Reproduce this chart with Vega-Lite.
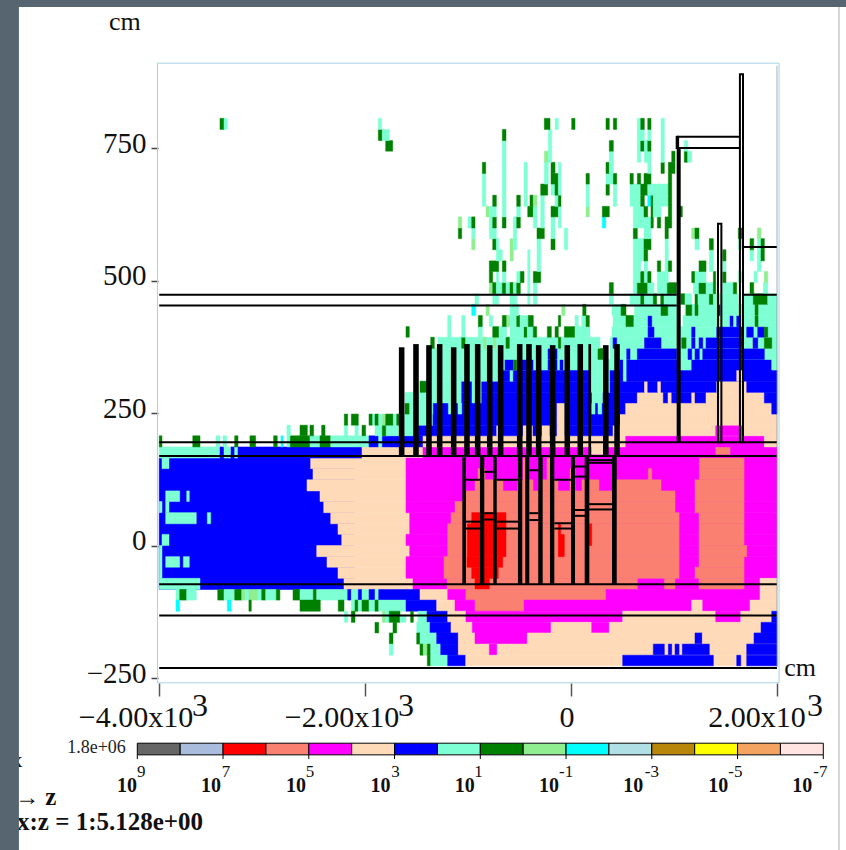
{"$schema":"https://vega.github.io/schema/vega-lite/v6.json","width":846,"height":850,"padding":0,"autosize":{"type":"none"},"background":"white","config":{"view":{"stroke":null}},
"datasets":{
"cells":[
{"z":-3998,"z2":-2100,"y":-83,"y2":165,"d":3},
{"z":-2528,"z2":2000,"y":145,"y2":165,"d":4},{"z":-2505,"z2":2000,"y":124,"y2":145,"d":4},{"z":-2563,"z2":2000,"y":103,"y2":124,"d":4},{"z":-2437,"z2":2000,"y":83,"y2":103,"d":4},{"z":-2401,"z2":2000,"y":62,"y2":83,"d":4},{"z":-2333,"z2":2000,"y":41,"y2":62,"d":4},{"z":-2262,"z2":2000,"y":21,"y2":41,"d":4},{"z":-2226,"z2":2000,"y":0,"y2":21,"d":4},{"z":-2469,"z2":2000,"y":-21,"y2":0,"d":4},{"z":-2369,"z2":2000,"y":-41,"y2":-21,"d":4},{"z":-2262,"z2":2000,"y":-62,"y2":-41,"d":4},{"z":-2204,"z2":2000,"y":-83,"y2":-62,"d":4},
{"z":-3998,"z2":-3602,"y":-83,"y2":-62,"d":2},{"z":-3971,"z2":-3903,"y":145,"y2":165,"d":2},{"z":-3935,"z2":-3799,"y":83,"y2":103,"d":2},{"z":-3731,"z2":-3706,"y":83,"y2":103,"d":2},{"z":-3998,"z2":-3971,"y":62,"y2":83,"d":2},{"z":-3935,"z2":-3903,"y":62,"y2":83,"d":2},{"z":-3935,"z2":-3638,"y":41,"y2":62,"d":2},{"z":-3531,"z2":-3498,"y":41,"y2":62,"d":2},{"z":-3971,"z2":-3903,"y":0,"y2":21,"d":2},{"z":-3935,"z2":-3799,"y":-41,"y2":-21,"d":2},{"z":-3764,"z2":-3706,"y":-41,"y2":-21,"d":2},{"z":-3998,"z2":-3971,"y":-62,"y2":0,"d":2},
{"z":-3998,"z2":-3408,"y":165,"y2":186,"d":2},{"z":-3408,"z2":-3369,"y":165,"y2":186,"d":3},{"z":-3369,"z2":-3301,"y":165,"y2":186,"d":2},{"z":-3301,"z2":-3265,"y":165,"y2":186,"d":3},{"z":-3265,"z2":-3233,"y":165,"y2":186,"d":2},{"z":-3233,"z2":-2029,"y":165,"y2":186,"d":3},{"z":-2029,"z2":-1437,"y":165,"y2":186,"d":4},{"z":-1437,"z2":2000,"y":165,"y2":186,"d":5},{"z":201,"z2":316,"y":172,"y2":186,"d":4},{"z":1405,"z2":1544,"y":172,"y2":186,"d":6},
{"z":-1602,"z2":2000,"y":83,"y2":165,"d":5},{"z":-1602,"z2":2000,"y":62,"y2":83,"d":5},{"z":-1566,"z2":2000,"y":21,"y2":62,"d":5},{"z":-1602,"z2":2000,"y":0,"y2":21,"d":5},{"z":-1566,"z2":2000,"y":-21,"y2":0,"d":5},{"z":-1602,"z2":2000,"y":-62,"y2":-21,"d":5},{"z":-1534,"z2":1835,"y":-83,"y2":-62,"d":5},{"z":1835,"z2":2000,"y":-83,"y2":-62,"d":4},
{"z":-466,"z2":-427,"y":145,"y2":165,"d":6},{"z":-233,"z2":-204,"y":145,"y2":165,"d":6},{"z":1246,"z2":1680,"y":145,"y2":165,"d":6},
{"z":-903,"z2":-835,"y":124,"y2":145,"d":6},{"z":-466,"z2":-427,"y":124,"y2":145,"d":6},{"z":-233,"z2":-204,"y":124,"y2":145,"d":6},{"z":-10,"z2":39,"y":124,"y2":145,"d":6},{"z":751,"z2":784,"y":124,"y2":145,"d":6},{"z":1246,"z2":1680,"y":124,"y2":145,"d":6},
{"z":-932,"z2":-660,"y":103,"y2":124,"d":6},{"z":-515,"z2":-369,"y":103,"y2":124,"d":6},{"z":-301,"z2":-126,"y":103,"y2":124,"d":6},{"z":-10,"z2":39,"y":103,"y2":124,"d":6},{"z":107,"z2":272,"y":103,"y2":124,"d":6},{"z":437,"z2":874,"y":103,"y2":124,"d":6},{"z":1204,"z2":1680,"y":103,"y2":124,"d":6},
{"z":-1020,"z2":1010,"y":83,"y2":103,"d":6},{"z":1204,"z2":1680,"y":83,"y2":103,"d":6},
{"z":-1126,"z2":1010,"y":62,"y2":83,"d":6},{"z":1204,"z2":1680,"y":62,"y2":83,"d":6},
{"z":-1165,"z2":1049,"y":41,"y2":62,"d":6},{"z":1243,"z2":1680,"y":41,"y2":62,"d":6},
{"z":-1197,"z2":1049,"y":-21,"y2":41,"d":6},{"z":1243,"z2":1680,"y":0,"y2":41,"d":6},{"z":1243,"z2":1706,"y":-21,"y2":0,"d":6},
{"z":-1233,"z2":1049,"y":-62,"y2":-21,"d":6},{"z":1243,"z2":1680,"y":-41,"y2":-21,"d":6},{"z":1204,"z2":1680,"y":-62,"y2":-41,"d":6},
{"z":-1204,"z2":644,"y":-83,"y2":-62,"d":6},{"z":906,"z2":1010,"y":-83,"y2":-62,"d":6},{"z":1243,"z2":1680,"y":-83,"y2":-62,"d":6},
{"z":-964,"z2":-884,"y":41,"y2":62,"d":7},{"z":-845,"z2":-631,"y":41,"y2":62,"d":7},{"z":-1007,"z2":-631,"y":-21,"y2":41,"d":7},{"z":-1010,"z2":-663,"y":-41,"y2":-21,"d":7},{"z":-964,"z2":-884,"y":-62,"y2":-41,"d":7},{"z":-845,"z2":-706,"y":-62,"y2":-41,"d":7},{"z":-932,"z2":-793,"y":-83,"y2":-62,"d":7},{"z":-123,"z2":-65,"y":-21,"y2":21,"d":7},{"z":-123,"z2":-100,"y":21,"y2":41,"d":7},{"z":178,"z2":201,"y":0,"y2":41,"d":7},
{"z":-3835,"z2":-3799,"y":-103,"y2":-83,"d":2},{"z":-3799,"z2":-3731,"y":-103,"y2":-83,"d":1},{"z":-3731,"z2":-3638,"y":-103,"y2":-83,"d":2},{"z":-3430,"z2":-3369,"y":-103,"y2":-83,"d":1},{"z":-3369,"z2":-3265,"y":-103,"y2":-83,"d":2},{"z":-3265,"z2":-3197,"y":-103,"y2":-83,"d":1},{"z":-3197,"z2":-3162,"y":-103,"y2":-83,"d":0},{"z":-3162,"z2":-3127,"y":-103,"y2":-83,"d":2},{"z":-3127,"z2":-3039,"y":-103,"y2":-83,"d":0},{"z":-3039,"z2":-3003,"y":-103,"y2":-83,"d":2},{"z":-3003,"z2":-2964,"y":-103,"y2":-83,"d":1},{"z":-2964,"z2":-2861,"y":-103,"y2":-83,"d":2},{"z":-2861,"z2":-2826,"y":-103,"y2":-83,"d":1},{"z":-2699,"z2":-2631,"y":-103,"y2":-83,"d":1},{"z":-2631,"z2":-2502,"y":-103,"y2":-83,"d":2},{"z":-2502,"z2":-2469,"y":-103,"y2":-83,"d":1},{"z":-2469,"z2":-2168,"y":-103,"y2":-83,"d":2},{"z":-2168,"z2":-2133,"y":-103,"y2":-83,"d":3},{"z":-2133,"z2":-2065,"y":-103,"y2":-83,"d":2},{"z":-2065,"z2":-2029,"y":-103,"y2":-83,"d":3},{"z":-2029,"z2":-1961,"y":-103,"y2":-83,"d":2},{"z":-1961,"z2":-1903,"y":-103,"y2":-83,"d":3},{"z":-1903,"z2":-1867,"y":-103,"y2":-83,"d":2},{"z":-1867,"z2":-1466,"y":-103,"y2":-83,"d":3},{"z":-1466,"z2":-1197,"y":-103,"y2":-83,"d":4},{"z":-1197,"z2":-1020,"y":-103,"y2":-83,"d":5},{"z":-1020,"z2":340,"y":-103,"y2":-83,"d":6},{"z":340,"z2":1835,"y":-103,"y2":-83,"d":5},{"z":1835,"z2":2000,"y":-103,"y2":-83,"d":4},
{"z":-3835,"z2":-3799,"y":-124,"y2":-103,"d":-1},{"z":-3337,"z2":-3301,"y":-124,"y2":-103,"d":-1},{"z":-3127,"z2":-3104,"y":-124,"y2":-103,"d":1},{"z":-2631,"z2":-2434,"y":-124,"y2":-103,"d":1},{"z":-2260,"z2":-2204,"y":-124,"y2":-103,"d":1},{"z":-2133,"z2":-2097,"y":-124,"y2":-103,"d":2},{"z":-2097,"z2":-2065,"y":-124,"y2":-103,"d":1},{"z":-2065,"z2":-2029,"y":-124,"y2":-103,"d":2},{"z":-2029,"z2":-1961,"y":-124,"y2":-103,"d":1},{"z":-1961,"z2":-1903,"y":-124,"y2":-103,"d":2},{"z":-1903,"z2":-1867,"y":-124,"y2":-103,"d":1},{"z":-1867,"z2":-1602,"y":-124,"y2":-103,"d":2},{"z":-1602,"z2":-1304,"y":-124,"y2":-103,"d":3},{"z":-1304,"z2":-1126,"y":-124,"y2":-103,"d":4},{"z":-1126,"z2":-932,"y":-124,"y2":-103,"d":5},{"z":-932,"z2":-456,"y":-124,"y2":-103,"d":6},{"z":-456,"z2":1172,"y":-124,"y2":-103,"d":5},{"z":1172,"z2":1279,"y":-124,"y2":-103,"d":4},{"z":1279,"z2":1738,"y":-124,"y2":-103,"d":5},{"z":1738,"z2":2000,"y":-124,"y2":-103,"d":4},
{"z":-2201,"z2":-2168,"y":-145,"y2":-124,"d":2},{"z":-2133,"z2":-2097,"y":-145,"y2":-124,"d":1},{"z":-1832,"z2":-1799,"y":-145,"y2":-124,"d":0},{"z":-1799,"z2":-1764,"y":-145,"y2":-124,"d":2},{"z":-1764,"z2":-1660,"y":-145,"y2":-124,"d":1},{"z":-1660,"z2":-1602,"y":-145,"y2":-131,"d":2},{"z":-1557,"z2":-1531,"y":-145,"y2":-124,"d":1},{"z":-1486,"z2":-1398,"y":-145,"y2":-124,"d":2},{"z":-1398,"z2":-1197,"y":-145,"y2":-124,"d":3},{"z":-1197,"z2":-1020,"y":-145,"y2":-124,"d":4},{"z":-1020,"z2":502,"y":-145,"y2":-124,"d":5},{"z":502,"z2":1405,"y":-145,"y2":-124,"d":4},{"z":1405,"z2":1648,"y":-145,"y2":-124,"d":5},{"z":1648,"z2":1949,"y":-145,"y2":-124,"d":4},{"z":1949,"z2":2000,"y":-145,"y2":-124,"d":3},
{"z":-1903,"z2":-1867,"y":-165,"y2":-145,"d":1},{"z":-1728,"z2":-1692,"y":-165,"y2":-145,"d":1},{"z":-1498,"z2":-1369,"y":-165,"y2":-145,"d":2},{"z":-1369,"z2":-1165,"y":-165,"y2":-145,"d":3},{"z":-1165,"z2":-958,"y":-165,"y2":-145,"d":4},{"z":-958,"z2":-194,"y":-165,"y2":-145,"d":5},{"z":-194,"z2":201,"y":-165,"y2":-145,"d":4},{"z":201,"z2":372,"y":-165,"y2":-145,"d":5},{"z":372,"z2":1845,"y":-165,"y2":-145,"d":4},{"z":1845,"z2":2000,"y":-165,"y2":-145,"d":3},
{"z":-1764,"z2":-1728,"y":-186,"y2":-165,"d":1},{"z":-1498,"z2":-1466,"y":-186,"y2":-165,"d":1},{"z":-1466,"z2":-1304,"y":-186,"y2":-165,"d":2},{"z":-1304,"z2":-1094,"y":-186,"y2":-165,"d":3},{"z":-1094,"z2":-932,"y":-186,"y2":-165,"d":4},{"z":-932,"z2":-424,"y":-186,"y2":-165,"d":5},{"z":-424,"z2":1204,"y":-186,"y2":-165,"d":4},{"z":1204,"z2":1275,"y":-186,"y2":-165,"d":3},{"z":1275,"z2":1777,"y":-186,"y2":-165,"d":4},{"z":1777,"z2":2000,"y":-186,"y2":-165,"d":3},
{"z":-1764,"z2":-1728,"y":-207,"y2":-186,"d":2},{"z":-1466,"z2":-1434,"y":-207,"y2":-186,"d":1},{"z":-1434,"z2":-1395,"y":-207,"y2":-186,"d":0},{"z":-1395,"z2":-1362,"y":-207,"y2":-186,"d":1},{"z":-1362,"z2":-1265,"y":-207,"y2":-186,"d":2},{"z":-1265,"z2":-1094,"y":-207,"y2":-186,"d":3},{"z":-1094,"z2":2000,"y":-207,"y2":-186,"d":4},{"z":-793,"z2":-721,"y":-207,"y2":-186,"d":5},{"z":799,"z2":906,"y":-207,"y2":-186,"d":3},{"z":945,"z2":978,"y":-207,"y2":-186,"d":3},{"z":1010,"z2":1049,"y":-207,"y2":-186,"d":3},{"z":1081,"z2":1343,"y":-207,"y2":-186,"d":3},{"z":1706,"z2":2000,"y":-207,"y2":-186,"d":3},
{"z":-1395,"z2":-1362,"y":-227,"y2":-207,"d":1},{"z":-1362,"z2":-1197,"y":-227,"y2":-207,"d":2},{"z":-1197,"z2":-1022,"y":-227,"y2":-207,"d":3},{"z":-1022,"z2":2000,"y":-227,"y2":-207,"d":4},{"z":502,"z2":1382,"y":-227,"y2":-207,"d":3},{"z":1609,"z2":1648,"y":-227,"y2":-207,"d":3},{"z":1706,"z2":2000,"y":-227,"y2":-207,"d":3},
{"z":-1758,"z2":-1437,"y":186,"y2":207,"d":3},{"z":-1437,"z2":531,"y":186,"y2":207,"d":4},{"z":531,"z2":1877,"y":186,"y2":207,"d":5},{"z":1877,"z2":2000,"y":186,"y2":207,"d":4},
{"z":-3998,"z2":-3971,"y":186,"y2":207,"d":1},{"z":-3672,"z2":-3602,"y":186,"y2":207,"d":1},{"z":-3447,"z2":-3408,"y":186,"y2":207,"d":2},{"z":-3379,"z2":-3343,"y":186,"y2":207,"d":2},{"z":-3265,"z2":-3233,"y":186,"y2":207,"d":1},{"z":-3117,"z2":-3062,"y":186,"y2":207,"d":1},{"z":-2887,"z2":-2852,"y":186,"y2":207,"d":1},{"z":-2816,"z2":-2793,"y":186,"y2":207,"d":-1},{"z":-2758,"z2":-2725,"y":186,"y2":207,"d":2},{"z":-2725,"z2":-2534,"y":186,"y2":207,"d":1},{"z":-2534,"z2":-2437,"y":186,"y2":207,"d":2},{"z":-2437,"z2":-2333,"y":186,"y2":207,"d":1},{"z":-2333,"z2":-1961,"y":186,"y2":207,"d":2},{"z":-1961,"z2":-1867,"y":186,"y2":207,"d":3},{"z":-1867,"z2":-1832,"y":186,"y2":207,"d":2},{"z":-1832,"z2":-1758,"y":186,"y2":207,"d":3},
{"z":-2758,"z2":-2725,"y":207,"y2":227,"d":2},{"z":-2631,"z2":-2560,"y":207,"y2":227,"d":1},{"z":-2534,"z2":-2499,"y":207,"y2":227,"d":1},{"z":-2421,"z2":-2388,"y":207,"y2":227,"d":1},{"z":-2201,"z2":-2168,"y":207,"y2":227,"d":2},{"z":-2097,"z2":-2065,"y":207,"y2":227,"d":2},{"z":-2029,"z2":-1994,"y":207,"y2":227,"d":1},{"z":-1903,"z2":-1758,"y":207,"y2":227,"d":2},{"z":-1832,"z2":-1799,"y":207,"y2":227,"d":1},
{"z":-1758,"z2":-1486,"y":207,"y2":227,"d":2},{"z":-1483,"z2":-721,"y":207,"y2":227,"d":3},{"z":-721,"z2":-660,"y":207,"y2":227,"d":4},{"z":-660,"z2":-466,"y":207,"y2":227,"d":3},{"z":-466,"z2":-369,"y":207,"y2":227,"d":4},{"z":-369,"z2":-282,"y":207,"y2":227,"d":3},{"z":-282,"z2":-204,"y":207,"y2":227,"d":4},{"z":-204,"z2":-136,"y":207,"y2":227,"d":3},{"z":-136,"z2":-58,"y":207,"y2":227,"d":4},{"z":-58,"z2":408,"y":207,"y2":227,"d":3},{"z":408,"z2":2000,"y":207,"y2":227,"d":4},{"z":1405,"z2":1673,"y":207,"y2":227,"d":5},
{"z":-2201,"z2":-2168,"y":227,"y2":248,"d":1},{"z":-2133,"z2":-2065,"y":227,"y2":248,"d":1},{"z":-1961,"z2":-1925,"y":227,"y2":248,"d":1},{"z":-1925,"z2":-1903,"y":227,"y2":248,"d":2},{"z":-1903,"z2":-1867,"y":227,"y2":248,"d":1},{"z":-1867,"z2":-1832,"y":227,"y2":248,"d":2},{"z":-1832,"z2":-1799,"y":227,"y2":248,"d":0},{"z":-1799,"z2":-1725,"y":227,"y2":248,"d":1},{"z":-1725,"z2":-1692,"y":227,"y2":248,"d":2},
{"z":-1692,"z2":-1660,"y":227,"y2":248,"d":1},{"z":-1660,"z2":-1340,"y":227,"y2":248,"d":2},{"z":-1340,"z2":-136,"y":227,"y2":248,"d":3},{"z":-136,"z2":-58,"y":227,"y2":248,"d":4},{"z":-58,"z2":476,"y":227,"y2":248,"d":3},{"z":476,"z2":2000,"y":227,"y2":248,"d":4},
{"z":-1612,"z2":-1570,"y":248,"y2":269,"d":1},{"z":-1563,"z2":-1337,"y":248,"y2":269,"d":2},{"z":-1337,"z2":-136,"y":248,"y2":269,"d":3},{"z":-1191,"z2":-1158,"y":248,"y2":269,"d":2},{"z":-1097,"z2":-1061,"y":248,"y2":269,"d":2},{"z":-136,"z2":-58,"y":248,"y2":269,"d":4},{"z":-58,"z2":531,"y":248,"y2":269,"d":3},{"z":201,"z2":233,"y":248,"y2":269,"d":2},{"z":262,"z2":298,"y":248,"y2":269,"d":2},{"z":531,"z2":1949,"y":248,"y2":269,"d":4},{"z":1949,"z2":2000,"y":248,"y2":269,"d":3},
{"z":-1612,"z2":-1061,"y":269,"y2":289,"d":2},{"z":-1061,"z2":-961,"y":269,"y2":289,"d":3},{"z":-961,"z2":-867,"y":269,"y2":289,"d":2},{"z":-867,"z2":204,"y":269,"y2":289,"d":3},{"z":204,"z2":311,"y":269,"y2":289,"d":2},{"z":311,"z2":644,"y":269,"y2":289,"d":3},{"z":644,"z2":896,"y":269,"y2":289,"d":4},{"z":896,"z2":942,"y":269,"y2":289,"d":3},{"z":942,"z2":978,"y":269,"y2":289,"d":4},{"z":978,"z2":1172,"y":269,"y2":289,"d":3},{"z":1172,"z2":1204,"y":269,"y2":289,"d":4},{"z":1204,"z2":1311,"y":269,"y2":289,"d":3},{"z":1311,"z2":1877,"y":269,"y2":289,"d":4},{"z":1877,"z2":2000,"y":269,"y2":289,"d":3},
{"z":-1466,"z2":-1061,"y":289,"y2":310,"d":2},{"z":-1466,"z2":-1401,"y":289,"y2":310,"d":1},{"z":-1061,"z2":-961,"y":289,"y2":310,"d":3},{"z":-961,"z2":-867,"y":289,"y2":310,"d":2},{"z":-867,"z2":184,"y":289,"y2":310,"d":3},{"z":184,"z2":379,"y":289,"y2":310,"d":2},{"z":379,"z2":714,"y":289,"y2":310,"d":3},{"z":714,"z2":745,"y":289,"y2":310,"d":4},{"z":745,"z2":842,"y":289,"y2":310,"d":3},{"z":842,"z2":874,"y":289,"y2":310,"d":4},{"z":874,"z2":1415,"y":289,"y2":310,"d":3},{"z":1415,"z2":1706,"y":289,"y2":310,"d":4},{"z":1706,"z2":2000,"y":289,"y2":310,"d":3},
{"z":-1398,"z2":-660,"y":310,"y2":331,"d":2},{"z":-660,"z2":-592,"y":310,"y2":331,"d":3},{"z":-592,"z2":-560,"y":310,"y2":331,"d":2},{"z":-560,"z2":184,"y":310,"y2":331,"d":3},{"z":184,"z2":379,"y":310,"y2":331,"d":2},{"z":379,"z2":508,"y":310,"y2":331,"d":3},{"z":508,"z2":541,"y":310,"y2":331,"d":2},{"z":541,"z2":2000,"y":310,"y2":331,"d":3},{"z":1609,"z2":1673,"y":310,"y2":331,"d":4},
{"z":-1398,"z2":476,"y":331,"y2":351,"d":2},{"z":-641,"z2":-563,"y":331,"y2":351,"d":3},{"z":-560,"z2":-527,"y":331,"y2":351,"d":1},{"z":-495,"z2":-369,"y":331,"y2":351,"d":3},{"z":-223,"z2":-136,"y":331,"y2":351,"d":3},{"z":-107,"z2":-78,"y":331,"y2":351,"d":3},{"z":476,"z2":508,"y":331,"y2":351,"d":3},{"z":508,"z2":541,"y":331,"y2":351,"d":2},{"z":541,"z2":1058,"y":331,"y2":351,"d":3},{"z":1058,"z2":1172,"y":331,"y2":351,"d":2},{"z":1172,"z2":1949,"y":331,"y2":351,"d":3},{"z":1949,"z2":2000,"y":331,"y2":351,"d":2},
{"z":-1369,"z2":282,"y":351,"y2":372,"d":2},{"z":-223,"z2":-136,"y":351,"y2":372,"d":3},{"z":262,"z2":330,"y":351,"y2":372,"d":1},{"z":379,"z2":2000,"y":351,"y2":372,"d":2},{"z":541,"z2":573,"y":351,"y2":372,"d":3},{"z":644,"z2":1026,"y":351,"y2":372,"d":3},{"z":1136,"z2":1172,"y":351,"y2":372,"d":3},{"z":1204,"z2":1246,"y":351,"y2":372,"d":3},{"z":1279,"z2":1877,"y":351,"y2":372,"d":3},
{"z":-1291,"z2":282,"y":372,"y2":393,"d":2},{"z":-1362,"z2":-1327,"y":372,"y2":393,"d":1},{"z":-1061,"z2":-1029,"y":372,"y2":393,"d":1},{"z":-852,"z2":-825,"y":372,"y2":393,"d":0},{"z":-754,"z2":-728,"y":372,"y2":393,"d":0},{"z":-631,"z2":-599,"y":372,"y2":393,"d":1},{"z":-123,"z2":-100,"y":372,"y2":393,"d":1},{"z":379,"z2":2000,"y":372,"y2":393,"d":2},{"z":408,"z2":443,"y":372,"y2":393,"d":3},{"z":714,"z2":874,"y":372,"y2":393,"d":3},{"z":1075,"z2":1117,"y":372,"y2":393,"d":1},{"z":1172,"z2":1204,"y":372,"y2":393,"d":3},{"z":1243,"z2":1279,"y":372,"y2":393,"d":3},{"z":1311,"z2":1670,"y":372,"y2":393,"d":3},{"z":1767,"z2":1813,"y":372,"y2":393,"d":3},{"z":1877,"z2":1949,"y":372,"y2":393,"d":1},
{"z":-1602,"z2":-1570,"y":393,"y2":413,"d":1},{"z":-1197,"z2":-1165,"y":393,"y2":413,"d":2},{"z":-1061,"z2":-1029,"y":393,"y2":413,"d":2},{"z":-900,"z2":-861,"y":393,"y2":413,"d":2},{"z":-760,"z2":-699,"y":393,"y2":413,"d":1},{"z":-699,"z2":-624,"y":393,"y2":413,"d":2},{"z":-592,"z2":-463,"y":393,"y2":413,"d":2},{"z":-456,"z2":-424,"y":393,"y2":413,"d":1},{"z":-424,"z2":-366,"y":393,"y2":413,"d":2},{"z":-366,"z2":-333,"y":393,"y2":413,"d":1},{"z":-230,"z2":-191,"y":393,"y2":413,"d":1},{"z":-155,"z2":-123,"y":393,"y2":413,"d":1},{"z":-65,"z2":39,"y":393,"y2":413,"d":1},{"z":39,"z2":184,"y":393,"y2":413,"d":2},{"z":398,"z2":2000,"y":393,"y2":413,"d":2},{"z":748,"z2":806,"y":393,"y2":413,"d":3},{"z":1172,"z2":1204,"y":393,"y2":413,"d":3},{"z":1415,"z2":1670,"y":393,"y2":413,"d":3},{"z":1706,"z2":1770,"y":393,"y2":413,"d":3},{"z":1813,"z2":1877,"y":393,"y2":413,"d":3},{"z":1877,"z2":1910,"y":393,"y2":413,"d":1},
{"z":-1197,"z2":-1165,"y":413,"y2":434,"d":2},{"z":-1061,"z2":-1029,"y":413,"y2":434,"d":2},{"z":-900,"z2":-861,"y":413,"y2":434,"d":1},{"z":-793,"z2":-760,"y":413,"y2":434,"d":2},{"z":-667,"z2":-624,"y":413,"y2":434,"d":1},{"z":-624,"z2":-592,"y":413,"y2":434,"d":0},{"z":-592,"z2":-527,"y":413,"y2":434,"d":2},{"z":-527,"z2":-495,"y":413,"y2":434,"d":1},{"z":-495,"z2":-415,"y":413,"y2":434,"d":2},{"z":-415,"z2":-366,"y":413,"y2":434,"d":1},{"z":-123,"z2":-100,"y":413,"y2":434,"d":1},{"z":39,"z2":71,"y":413,"y2":434,"d":2},{"z":104,"z2":146,"y":413,"y2":434,"d":2},{"z":146,"z2":178,"y":413,"y2":434,"d":1},{"z":408,"z2":1058,"y":413,"y2":434,"d":2},{"z":534,"z2":605,"y":413,"y2":434,"d":1},{"z":748,"z2":784,"y":413,"y2":434,"d":3},{"z":1087,"z2":2000,"y":413,"y2":434,"d":2},{"z":1544,"z2":1573,"y":413,"y2":434,"d":3},{"z":1609,"z2":1641,"y":413,"y2":434,"d":3},{"z":1787,"z2":1816,"y":413,"y2":434,"d":1},
{"z":-964,"z2":-925,"y":434,"y2":455,"d":-1},{"z":-825,"z2":-793,"y":434,"y2":455,"d":0},{"z":-592,"z2":-510,"y":434,"y2":455,"d":2},{"z":-90,"z2":-58,"y":434,"y2":455,"d":0},{"z":114,"z2":146,"y":434,"y2":455,"d":1},{"z":398,"z2":486,"y":434,"y2":455,"d":2},{"z":486,"z2":534,"y":434,"y2":455,"d":1},{"z":617,"z2":1029,"y":434,"y2":455,"d":2},{"z":874,"z2":939,"y":434,"y2":455,"d":1},{"z":1107,"z2":2000,"y":434,"y2":455,"d":2},{"z":1117,"z2":1172,"y":434,"y2":455,"d":1},{"z":1204,"z2":1233,"y":434,"y2":455,"d":1},{"z":1427,"z2":1447,"y":434,"y2":455,"d":3},{"z":1787,"z2":1816,"y":434,"y2":455,"d":1},
{"z":-932,"z2":-896,"y":455,"y2":475,"d":2},{"z":-760,"z2":-702,"y":455,"y2":475,"d":2},{"z":-592,"z2":-527,"y":455,"y2":475,"d":2},{"z":-420,"z2":-398,"y":455,"y2":475,"d":2},{"z":-366,"z2":-330,"y":455,"y2":475,"d":2},{"z":372,"z2":411,"y":455,"y2":475,"d":2},{"z":573,"z2":677,"y":455,"y2":475,"d":2},{"z":677,"z2":712,"y":455,"y2":475,"d":1},{"z":712,"z2":799,"y":455,"y2":475,"d":2},{"z":799,"z2":832,"y":455,"y2":475,"d":1},{"z":871,"z2":903,"y":455,"y2":475,"d":1},{"z":903,"z2":1026,"y":455,"y2":475,"d":2},{"z":1065,"z2":1107,"y":455,"y2":475,"d":1},{"z":1107,"z2":1172,"y":455,"y2":475,"d":2},{"z":1204,"z2":1233,"y":455,"y2":475,"d":1},{"z":1233,"z2":1343,"y":455,"y2":475,"d":2},{"z":1343,"z2":1382,"y":455,"y2":475,"d":1},{"z":1382,"z2":1624,"y":455,"y2":475,"d":2},{"z":1667,"z2":1770,"y":455,"y2":475,"d":2},{"z":1770,"z2":1910,"y":455,"y2":475,"d":1},{"z":1910,"z2":2000,"y":455,"y2":475,"d":2},
{"z":-793,"z2":-760,"y":475,"y2":496,"d":0},{"z":-760,"z2":-725,"y":475,"y2":496,"d":1},{"z":-725,"z2":-667,"y":475,"y2":496,"d":2},{"z":-667,"z2":-631,"y":475,"y2":496,"d":1},{"z":-631,"z2":-592,"y":475,"y2":496,"d":2},{"z":-592,"z2":-560,"y":475,"y2":496,"d":1},{"z":-560,"z2":-527,"y":475,"y2":496,"d":2},{"z":-527,"z2":-492,"y":475,"y2":496,"d":1},{"z":-420,"z2":-398,"y":475,"y2":496,"d":2},{"z":-366,"z2":-330,"y":475,"y2":496,"d":2},{"z":372,"z2":411,"y":475,"y2":496,"d":1},{"z":605,"z2":644,"y":475,"y2":496,"d":2},{"z":644,"z2":745,"y":475,"y2":496,"d":1},{"z":745,"z2":806,"y":475,"y2":496,"d":2},{"z":838,"z2":935,"y":475,"y2":496,"d":2},{"z":935,"z2":1026,"y":475,"y2":496,"d":1},{"z":1188,"z2":1243,"y":475,"y2":496,"d":2},{"z":1243,"z2":1311,"y":475,"y2":496,"d":1},{"z":1311,"z2":1382,"y":475,"y2":496,"d":2},{"z":1382,"z2":1405,"y":475,"y2":496,"d":1},{"z":1473,"z2":1576,"y":475,"y2":496,"d":2},{"z":1576,"z2":1609,"y":475,"y2":496,"d":1},{"z":1738,"z2":1774,"y":475,"y2":496,"d":1},{"z":1867,"z2":1910,"y":475,"y2":496,"d":2},
{"z":-793,"z2":-760,"y":496,"y2":517,"d":1},{"z":-725,"z2":-702,"y":496,"y2":517,"d":2},{"z":-667,"z2":-631,"y":496,"y2":517,"d":2},{"z":-527,"z2":-492,"y":496,"y2":517,"d":2},{"z":-492,"z2":-456,"y":496,"y2":517,"d":1},{"z":-420,"z2":-398,"y":496,"y2":517,"d":2},{"z":-366,"z2":-294,"y":496,"y2":517,"d":1},{"z":605,"z2":677,"y":496,"y2":517,"d":2},{"z":677,"z2":712,"y":496,"y2":517,"d":1},{"z":712,"z2":745,"y":496,"y2":517,"d":2},{"z":745,"z2":777,"y":496,"y2":517,"d":1},{"z":838,"z2":945,"y":496,"y2":517,"d":2},{"z":1172,"z2":1204,"y":496,"y2":517,"d":1},{"z":1204,"z2":1311,"y":496,"y2":517,"d":2},{"z":1382,"z2":1405,"y":496,"y2":517,"d":1},{"z":1473,"z2":1505,"y":496,"y2":517,"d":1},{"z":1624,"z2":1667,"y":496,"y2":517,"d":2},{"z":1777,"z2":1809,"y":496,"y2":517,"d":2},{"z":1877,"z2":1910,"y":496,"y2":517,"d":0},
{"z":-793,"z2":-702,"y":517,"y2":537,"d":1},{"z":-667,"z2":-631,"y":517,"y2":537,"d":1},{"z":-420,"z2":-398,"y":517,"y2":537,"d":2},{"z":-330,"z2":-294,"y":517,"y2":537,"d":2},{"z":605,"z2":677,"y":517,"y2":537,"d":2},{"z":709,"z2":745,"y":517,"y2":537,"d":2},{"z":838,"z2":871,"y":517,"y2":537,"d":1},{"z":913,"z2":945,"y":517,"y2":537,"d":2},{"z":945,"z2":978,"y":517,"y2":537,"d":1},{"z":1243,"z2":1311,"y":517,"y2":537,"d":1},{"z":1343,"z2":1382,"y":517,"y2":537,"d":2},{"z":1473,"z2":1505,"y":517,"y2":537,"d":2},{"z":1809,"z2":1845,"y":517,"y2":537,"d":2},
{"z":-725,"z2":-667,"y":537,"y2":558,"d":2},{"z":-592,"z2":-560,"y":537,"y2":558,"d":0},{"z":-420,"z2":-398,"y":537,"y2":558,"d":2},{"z":-330,"z2":-294,"y":537,"y2":558,"d":2},{"z":605,"z2":709,"y":537,"y2":558,"d":2},{"z":709,"z2":745,"y":537,"y2":558,"d":1},{"z":913,"z2":945,"y":537,"y2":558,"d":2},{"z":1343,"z2":1382,"y":537,"y2":558,"d":2},{"z":1473,"z2":1505,"y":537,"y2":558,"d":1},{"z":1738,"z2":1774,"y":537,"y2":558,"d":2},{"z":1809,"z2":1845,"y":537,"y2":558,"d":2},{"z":1845,"z2":1877,"y":537,"y2":558,"d":1},
{"z":-964,"z2":-932,"y":558,"y2":579,"d":0},{"z":-760,"z2":-725,"y":558,"y2":579,"d":1},{"z":-725,"z2":-702,"y":558,"y2":579,"d":2},{"z":-592,"z2":-560,"y":558,"y2":579,"d":0},{"z":-560,"z2":-527,"y":558,"y2":579,"d":2},{"z":-330,"z2":-294,"y":558,"y2":579,"d":2},{"z":-194,"z2":-155,"y":558,"y2":579,"d":1},{"z":-65,"z2":-32,"y":558,"y2":579,"d":2},{"z":605,"z2":709,"y":558,"y2":579,"d":2},{"z":709,"z2":777,"y":558,"y2":579,"d":1},{"z":913,"z2":945,"y":558,"y2":579,"d":2},{"z":1204,"z2":1243,"y":558,"y2":579,"d":2},{"z":1343,"z2":1382,"y":558,"y2":579,"d":1},{"z":1624,"z2":1667,"y":558,"y2":579,"d":2},{"z":1738,"z2":1774,"y":558,"y2":579,"d":1},{"z":1809,"z2":1845,"y":558,"y2":579,"d":2},{"z":1845,"z2":1877,"y":558,"y2":579,"d":1},
{"z":-1094,"z2":-1061,"y":579,"y2":599,"d":1},{"z":-964,"z2":-932,"y":579,"y2":599,"d":2},{"z":-793,"z2":-725,"y":579,"y2":599,"d":2},{"z":-560,"z2":-527,"y":579,"y2":599,"d":2},{"z":-330,"z2":-259,"y":579,"y2":599,"d":1},{"z":-194,"z2":-155,"y":579,"y2":599,"d":2},{"z":-65,"z2":-32,"y":579,"y2":599,"d":2},{"z":605,"z2":644,"y":579,"y2":599,"d":1},{"z":709,"z2":777,"y":579,"y2":599,"d":2},{"z":913,"z2":945,"y":579,"y2":599,"d":1},{"z":1172,"z2":1204,"y":579,"y2":599,"d":0},{"z":1204,"z2":1243,"y":579,"y2":599,"d":1},{"z":1624,"z2":1667,"y":579,"y2":599,"d":1},{"z":1809,"z2":1845,"y":579,"y2":599,"d":0},
{"z":-1094,"z2":-1061,"y":599,"y2":620,"d":0},{"z":-1000,"z2":-964,"y":599,"y2":620,"d":2},{"z":-964,"z2":-932,"y":599,"y2":620,"d":1},{"z":-793,"z2":-760,"y":599,"y2":620,"d":2},{"z":-760,"z2":-725,"y":599,"y2":620,"d":1},{"z":-667,"z2":-631,"y":599,"y2":620,"d":1},{"z":-560,"z2":-527,"y":599,"y2":620,"d":2},{"z":-527,"z2":-492,"y":599,"y2":620,"d":1},{"z":-366,"z2":-330,"y":599,"y2":620,"d":2},{"z":-294,"z2":-259,"y":599,"y2":620,"d":2},{"z":-194,"z2":-155,"y":599,"y2":620,"d":2},{"z":-123,"z2":-97,"y":599,"y2":620,"d":2},{"z":304,"z2":337,"y":599,"y2":620,"d":-1},{"z":605,"z2":777,"y":599,"y2":620,"d":2},{"z":777,"z2":799,"y":599,"y2":620,"d":1},{"z":838,"z2":871,"y":599,"y2":620,"d":1},{"z":913,"z2":978,"y":599,"y2":620,"d":1},
{"z":-825,"z2":-793,"y":620,"y2":640,"d":0},{"z":-793,"z2":-725,"y":620,"y2":640,"d":2},{"z":-667,"z2":-631,"y":620,"y2":640,"d":2},{"z":-527,"z2":-492,"y":620,"y2":640,"d":2},{"z":-420,"z2":-366,"y":620,"y2":640,"d":1},{"z":-366,"z2":-330,"y":620,"y2":640,"d":2},{"z":-294,"z2":-259,"y":620,"y2":640,"d":2},{"z":-194,"z2":-123,"y":620,"y2":640,"d":1},{"z":-123,"z2":-97,"y":620,"y2":640,"d":2},{"z":146,"z2":178,"y":620,"y2":640,"d":0},{"z":304,"z2":372,"y":620,"y2":640,"d":1},{"z":605,"z2":709,"y":620,"y2":640,"d":2},{"z":709,"z2":745,"y":620,"y2":640,"d":1},{"z":777,"z2":799,"y":620,"y2":640,"d":1},{"z":799,"z2":874,"y":620,"y2":640,"d":2},{"z":945,"z2":978,"y":620,"y2":640,"d":1},{"z":1058,"z2":1081,"y":620,"y2":640,"d":1},
{"z":-861,"z2":-828,"y":640,"y2":661,"d":2},{"z":-760,"z2":-725,"y":640,"y2":661,"d":1},{"z":-667,"z2":-631,"y":640,"y2":661,"d":2},{"z":-527,"z2":-492,"y":640,"y2":661,"d":1},{"z":-456,"z2":-424,"y":640,"y2":661,"d":2},{"z":-398,"z2":-366,"y":640,"y2":661,"d":1},{"z":-366,"z2":-330,"y":640,"y2":661,"d":0},{"z":-294,"z2":-259,"y":640,"y2":661,"d":2},{"z":-155,"z2":-123,"y":640,"y2":661,"d":2},{"z":-123,"z2":-97,"y":640,"y2":661,"d":1},{"z":146,"z2":178,"y":640,"y2":661,"d":2},{"z":411,"z2":444,"y":640,"y2":661,"d":2},{"z":573,"z2":677,"y":640,"y2":661,"d":2},{"z":677,"z2":712,"y":640,"y2":661,"d":1},{"z":745,"z2":777,"y":640,"y2":661,"d":-1},{"z":777,"z2":799,"y":640,"y2":661,"d":1},{"z":799,"z2":945,"y":640,"y2":661,"d":2},{"z":945,"z2":978,"y":640,"y2":661,"d":1},
{"z":-861,"z2":-828,"y":661,"y2":682,"d":2},{"z":-667,"z2":-631,"y":661,"y2":682,"d":2},{"z":-456,"z2":-424,"y":661,"y2":682,"d":2},{"z":-294,"z2":-226,"y":661,"y2":682,"d":1},{"z":-194,"z2":-155,"y":661,"y2":682,"d":2},{"z":-155,"z2":-123,"y":661,"y2":682,"d":1},{"z":-123,"z2":-97,"y":661,"y2":682,"d":2},{"z":146,"z2":178,"y":661,"y2":682,"d":2},{"z":340,"z2":372,"y":661,"y2":682,"d":1},{"z":411,"z2":444,"y":661,"y2":682,"d":2},{"z":573,"z2":677,"y":661,"y2":682,"d":2},{"z":677,"z2":745,"y":661,"y2":682,"d":1},{"z":745,"z2":874,"y":661,"y2":682,"d":2},{"z":874,"z2":945,"y":661,"y2":682,"d":2},{"z":945,"z2":978,"y":661,"y2":682,"d":1},
{"z":-861,"z2":-828,"y":682,"y2":702,"d":2},{"z":-667,"z2":-631,"y":682,"y2":702,"d":2},{"z":-456,"z2":-424,"y":682,"y2":702,"d":2},{"z":-259,"z2":-220,"y":682,"y2":702,"d":2},{"z":-194,"z2":-123,"y":682,"y2":702,"d":1},{"z":-123,"z2":-97,"y":682,"y2":702,"d":2},{"z":146,"z2":178,"y":682,"y2":702,"d":1},{"z":340,"z2":411,"y":682,"y2":702,"d":2},{"z":411,"z2":444,"y":682,"y2":702,"d":1},{"z":573,"z2":605,"y":682,"y2":702,"d":1},{"z":644,"z2":677,"y":682,"y2":702,"d":1},{"z":709,"z2":777,"y":682,"y2":702,"d":1},{"z":945,"z2":978,"y":682,"y2":702,"d":1},
{"z":-861,"z2":-828,"y":702,"y2":723,"d":1},{"z":-667,"z2":-631,"y":702,"y2":723,"d":2},{"z":-456,"z2":-424,"y":702,"y2":723,"d":2},{"z":-259,"z2":-220,"y":702,"y2":723,"d":2},{"z":-194,"z2":-155,"y":702,"y2":723,"d":1},{"z":-123,"z2":-97,"y":702,"y2":723,"d":2},{"z":340,"z2":372,"y":702,"y2":723,"d":1},{"z":372,"z2":411,"y":702,"y2":723,"d":2},{"z":745,"z2":777,"y":702,"y2":723,"d":2},{"z":874,"z2":906,"y":702,"y2":723,"d":1},{"z":945,"z2":1010,"y":702,"y2":723,"d":1},
{"z":-667,"z2":-631,"y":723,"y2":744,"d":2},{"z":-259,"z2":-220,"y":723,"y2":744,"d":0},{"z":-220,"z2":-187,"y":723,"y2":744,"d":2},{"z":372,"z2":411,"y":723,"y2":744,"d":2},{"z":644,"z2":677,"y":723,"y2":744,"d":2},{"z":712,"z2":777,"y":723,"y2":744,"d":2},{"z":874,"z2":906,"y":723,"y2":744,"d":2},{"z":978,"z2":1010,"y":723,"y2":744,"d":1},{"z":1100,"z2":1133,"y":723,"y2":744,"d":1},{"z":1133,"z2":1172,"y":723,"y2":744,"d":2},
{"z":-1799,"z2":-1731,"y":744,"y2":764,"d":1},{"z":-667,"z2":-631,"y":744,"y2":764,"d":2},{"z":-220,"z2":-187,"y":744,"y2":764,"d":2},{"z":372,"z2":411,"y":744,"y2":764,"d":1},{"z":644,"z2":677,"y":744,"y2":764,"d":2},{"z":677,"z2":712,"y":744,"y2":764,"d":1},{"z":712,"z2":745,"y":744,"y2":764,"d":2},{"z":745,"z2":777,"y":744,"y2":764,"d":1},{"z":874,"z2":906,"y":744,"y2":764,"d":2},{"z":1100,"z2":1133,"y":744,"y2":764,"d":2},
{"z":-1871,"z2":-1832,"y":764,"y2":785,"d":1},{"z":-1832,"z2":-1764,"y":764,"y2":785,"d":2},{"z":-667,"z2":-631,"y":764,"y2":785,"d":1},{"z":-220,"z2":-187,"y":764,"y2":785,"d":2},{"z":644,"z2":712,"y":764,"y2":785,"d":2},{"z":745,"z2":777,"y":764,"y2":785,"d":2},{"z":874,"z2":906,"y":764,"y2":785,"d":2},
{"z":-3408,"z2":-3369,"y":785,"y2":806,"d":1},{"z":-3369,"z2":-3337,"y":785,"y2":806,"d":2},{"z":-1871,"z2":-1838,"y":785,"y2":806,"d":2},{"z":-259,"z2":-204,"y":785,"y2":806,"d":1},{"z":-155,"z2":-123,"y":785,"y2":806,"d":2},{"z":7,"z2":39,"y":785,"y2":806,"d":1},{"z":340,"z2":372,"y":785,"y2":806,"d":1},{"z":411,"z2":444,"y":785,"y2":806,"d":1},{"z":644,"z2":677,"y":785,"y2":806,"d":2},{"z":677,"z2":712,"y":785,"y2":806,"d":1},{"z":745,"z2":777,"y":785,"y2":806,"d":1},{"z":874,"z2":906,"y":785,"y2":806,"d":2}
],
"hlines":[
{"z":-3998,"z2":1026,"y":473},{"z":1660,"z2":2000,"y":473},{"z":-3998,"z2":1026,"y":453},{"z":-3998,"z2":2000,"y":195},{"z":-3998,"z2":2000,"y":169},{"z":-3998,"z2":2000,"y":-73},{"z":-3998,"z2":2000,"y":-132},{"z":-3998,"z2":2000,"y":-231},{"z":1026,"z2":1641,"y":771},{"z":1026,"z2":1641,"y":750},{"z":1670,"z2":2000,"y":563},
{"z":-1020,"z2":-884,"y":45},{"z":-1020,"z2":-884,"y":32},{"z":-721,"z2":-515,"y":45},{"z":-721,"z2":-515,"y":32},{"z":-842,"z2":-754,"y":61},{"z":-842,"z2":-754,"y":49},{"z":-405,"z2":-318,"y":61},{"z":-405,"z2":-318,"y":48},{"z":-162,"z2":0,"y":42},{"z":-162,"z2":0,"y":32},{"z":39,"z2":136,"y":67},{"z":39,"z2":136,"y":56},{"z":175,"z2":398,"y":78},{"z":175,"z2":398,"y":68},{"z":-842,"z2":-754,"y":139},{"z":-1020,"z2":-884,"y":124},{"z":-721,"z2":-515,"y":124},{"z":-405,"z2":-318,"y":142},{"z":39,"z2":136,"y":130},{"z":39,"z2":136,"y":149},{"z":175,"z2":398,"y":161},{"z":175,"z2":398,"y":156},{"z":-162,"z2":0,"y":124}
],
"solid":[
{"z":-1671,"z2":-1617,"y":169,"y2":374},{"z":-1532,"z2":-1478,"y":169,"y2":380},{"z":-1406,"z2":-1352,"y":169,"y2":378},{"z":-1302,"z2":-1248,"y":169,"y2":380},{"z":-1166,"z2":-1112,"y":169,"y2":374},{"z":-1037,"z2":-983,"y":169,"y2":380},{"z":-933,"z2":-879,"y":169,"y2":380},{"z":-816,"z2":-762,"y":169,"y2":378},{"z":-710,"z2":-656,"y":169,"y2":378},{"z":-525,"z2":-471,"y":169,"y2":380},{"z":-435,"z2":-381,"y":169,"y2":380},{"z":-341,"z2":-287,"y":169,"y2":378},{"z":-205,"z2":-151,"y":169,"y2":378},{"z":-63,"z2":-9,"y":169,"y2":378},{"z":63,"z2":117,"y":169,"y2":380},{"z":169,"z2":195,"y":169,"y2":380},{"z":311,"z2":365,"y":169,"y2":378},{"z":420,"z2":474,"y":169,"y2":380},
{"z":-1055,"z2":-1020,"y":-73,"y2":169},{"z":-884,"z2":-842,"y":-73,"y2":169},{"z":-754,"z2":-721,"y":-73,"y2":169},{"z":-515,"z2":-473,"y":-73,"y2":169},{"z":-444,"z2":-405,"y":-73,"y2":169},{"z":-318,"z2":-275,"y":-73,"y2":169},{"z":-204,"z2":-162,"y":-73,"y2":169},{"z":0,"z2":39,"y":-73,"y2":169},{"z":133,"z2":178,"y":-73,"y2":169},{"z":398,"z2":444,"y":-73,"y2":169},
{"z":1026,"z2":1065,"y":195,"y2":750}
],
"outline":[{"z":1640,"z2":1670,"y":195,"y2":889},{"z":1427,"z2":1460,"y":195,"y2":607},{"z":1026,"z2":1040,"y":750,"y2":771}],
"legendCells":[{"e":9,"e2":8,"d":9},{"e":8,"e2":7,"d":8},{"e":7,"e2":6,"d":7},{"e":6,"e2":5,"d":6},{"e":5,"e2":4,"d":5},{"e":4,"e2":3,"d":4},{"e":3,"e2":2,"d":3},{"e":2,"e2":1,"d":2},{"e":1,"e2":0,"d":1},{"e":0,"e2":-1,"d":0},{"e":-1,"e2":-2,"d":-1},{"e":-2,"e2":-3,"d":-2},{"e":-3,"e2":-4,"d":-3},{"e":-4,"e2":-5,"d":-4},{"e":-5,"e2":-6,"d":-5},{"e":-6,"e2":-7,"d":-6}],
"legendTicks":[{"e":9},{"e":7},{"e":5},{"e":3},{"e":1},{"e":-1},{"e":-3},{"e":-5},{"e":-7}],
"legendTens":[{"e":9.24,"t":"10"},{"e":7.28,"t":"10"},{"e":5.3,"t":"10"},{"e":3.33,"t":"10"},{"e":1.36,"t":"10"},{"e":-0.6,"t":"10"},{"e":-2.57,"t":"10"},{"e":-4.55,"t":"10"},{"e":-6.51,"t":"10"}],
"legendExp":[{"e":8.91,"t":"9"},{"e":6.93,"t":"7"},{"e":4.97,"t":"5"},{"e":2.98,"t":"3"},{"e":1.04,"t":"1"},{"e":-1.0,"t":"-1"},{"e":-3.0,"t":"-3"},{"e":-4.95,"t":"-5"},{"e":-6.93,"t":"-7"}]
},
"layer":[
{"layer":[
{"data":{"name":"cells"},"mark":{"type":"rect","strokeWidth":0.5},"encoding":{"x":{"field":"z","type":"quantitative","scale":{"domain":[-4000,2000],"range":[159,777],"nice":false,"zero":false},"axis":{"values":[-4000,-2000,0,2000],"title":null,"grid":false,"domain":false,"offset":-167,"tickSize":13,"tickColor":"#555555","tickWidth":1.5,"labels":false}},"x2":{"field":"z2"},"y":{"field":"y","type":"quantitative","scale":{"domain":[-250,750],"range":[678,148],"nice":false,"zero":false},"axis":{"values":[750,500,250,0,-250],"title":null,"grid":false,"domain":false,"offset":-158,"tickSize":7,"tickColor":"#444444","tickWidth":1.5,"labelFont":"Liberation Serif","labelFontSize":29,"labelColor":"#111111","labelPadding":5,"labelOffset":-5,"labelExpr":"datum.value<0?'−250':datum.label"}},"y2":{"field":"y2"},"color":{"field":"d","type":"nominal","legend":null,"scale":{"domain":[9,8,7,6,5,4,3,2,1,0,-1,-2,-3,-4,-5,-6],"range":["#666666","#a9bcdc","#ff0000","#fa8072","#ff00ff","#ffdab9","#0000ff","#7fffd4","#008000","#90ee90","#00ffff","#b0e0e6","#b8860b","#ffff00","#f4a460","#ffe4e1"]}},"stroke":{"field":"d","type":"nominal","legend":null,"scale":{"domain":[9,8,7,6,5,4,3,2,1,0,-1,-2,-3,-4,-5,-6],"range":["#666666","#a9bcdc","#ff0000","#fa8072","#ff00ff","#ffdab9","#0000ff","#7fffd4","#008000","#90ee90","#00ffff","#b0e0e6","#b8860b","#ffff00","#f4a460","#ffe4e1"]}}}},
{"data":{"name":"solid"},"mark":{"type":"rect","fill":"black"},"encoding":{"x":{"field":"z","type":"quantitative"},"x2":{"field":"z2"},"y":{"field":"y","type":"quantitative"},"y2":{"field":"y2"}}},
{"data":{"name":"outline"},"mark":{"type":"rect","fill":null,"stroke":"black","strokeWidth":2},"encoding":{"x":{"field":"z","type":"quantitative"},"x2":{"field":"z2"},"y":{"field":"y","type":"quantitative"},"y2":{"field":"y2"}}},
{"data":{"name":"hlines"},"mark":{"type":"rule","color":"black","strokeWidth":2},"encoding":{"x":{"field":"z","type":"quantitative"},"x2":{"field":"z2"},"y":{"field":"y","type":"quantitative"}}},
{"data":{"values":[{"z":-4015,"z2":2020,"y":-259,"y2":910}]},"mark":{"type":"rect","fill":null,"stroke":"#a9d3e5","strokeWidth":1},"encoding":{"x":{"field":"z","type":"quantitative"},"x2":{"field":"z2"},"y":{"field":"y","type":"quantitative"},"y2":{"field":"y2"}}},
{"data":{"values":[{"z":2000,"y":-230,"y2":905},{"z":2602,"y":-600,"y2":1016}]},"mark":{"type":"rule","color":"#8a8f94","strokeWidth":1.2,"opacity":0.6},"encoding":{"x":{"field":"z","type":"quantitative"},"y":{"field":"y","type":"quantitative"},"y2":{"field":"y2"}}},
{"data":{"values":[{"z":-4000,"y":-325,"t":"−4.00x10"},{"z":-2000,"y":-325,"t":"−2.00x10"}]},"mark":{"type":"text","font":"Liberation Serif","fontSize":30,"color":"#111111","dx":-23},"encoding":{"x":{"field":"z","type":"quantitative"},"y":{"field":"y","type":"quantitative"},"text":{"field":"t"}}},
{"data":{"values":[{"z":0,"y":-325,"t":"0"}]},"mark":{"type":"text","font":"Liberation Serif","fontSize":30,"color":"#111111","dx":-4},"encoding":{"x":{"field":"z","type":"quantitative"},"y":{"field":"y","type":"quantitative"},"text":{"field":"t"}}},
{"data":{"values":[{"z":2000,"y":-325,"t":"2.00x10"}]},"mark":{"type":"text","font":"Liberation Serif","fontSize":30,"color":"#111111","dx":-20},"encoding":{"x":{"field":"z","type":"quantitative"},"y":{"field":"y","type":"quantitative"},"text":{"field":"t"}}},
{"data":{"values":[{"z":-4000,"y":-303,"t":"3"},{"z":-2000,"y":-303,"t":"3"}]},"mark":{"type":"text","font":"Liberation Serif","fontSize":32,"color":"#111111","dx":41},"encoding":{"x":{"field":"z","type":"quantitative"},"y":{"field":"y","type":"quantitative"},"text":{"field":"t"}}},
{"data":{"values":[{"z":2000,"y":-303,"t":"3"}]},"mark":{"type":"text","font":"Liberation Serif","fontSize":32,"color":"#111111","dx":38},"encoding":{"x":{"field":"z","type":"quantitative"},"y":{"field":"y","type":"quantitative"},"text":{"field":"t"}}},
{"data":{"values":[{"z":-4331,"y":988,"t":"cm"},{"z":2224,"y":-231,"t":"cm"}]},"mark":{"type":"text","font":"Liberation Serif","fontSize":26,"color":"#111111"},"encoding":{"x":{"field":"z","type":"quantitative"},"y":{"field":"y","type":"quantitative"},"text":{"field":"t"}}},
{"data":{"values":[{"z":-5379,"y":-522,"t":"x:z = 1:5.128e+00"}]},"mark":{"type":"text","font":"Liberation Serif","fontWeight":"bold","fontSize":25,"align":"left","color":"#111111"},"encoding":{"x":{"field":"z","type":"quantitative"},"y":{"field":"y","type":"quantitative"},"text":{"field":"t"}}},
{"data":{"values":[{"z":-5050,"y":-475,"t":"z"}]},"mark":{"type":"text","font":"Liberation Serif","fontWeight":"bold","fontSize":25,"color":"#111111"},"encoding":{"x":{"field":"z","type":"quantitative"},"y":{"field":"y","type":"quantitative"},"text":{"field":"t"}}},
{"data":{"values":[{"z":-5280,"y":-477,"t":"→"}]},"mark":{"type":"text","font":"Liberation Serif","fontWeight":"bold","fontSize":24,"color":"#111111"},"encoding":{"x":{"field":"z","type":"quantitative"},"y":{"field":"y","type":"quantitative"},"text":{"field":"t"}}},
{"data":{"values":[{"z":-5379,"y":-405,"t":"x"}]},"mark":{"type":"text","font":"Liberation Serif","fontSize":22,"color":"#111111"},"encoding":{"x":{"field":"z","type":"quantitative"},"y":{"field":"y","type":"quantitative"},"text":{"field":"t"}}},
{"data":{"values":[{"z":-4607,"y":-382,"t":"1.8e+06"}]},"mark":{"type":"text","font":"Liberation Serif","fontSize":18,"color":"#222222"},"encoding":{"x":{"field":"z","type":"quantitative"},"y":{"field":"y","type":"quantitative"},"text":{"field":"t"}}},
{"data":{"values":[{"z":-5544,"z2":-5360,"y":-600,"y2":1030},{"z":-5544,"z2":2670,"y":1016,"y2":1030}]},"mark":{"type":"rect","fill":"#56656f"},"encoding":{"x":{"field":"z","type":"quantitative"},"x2":{"field":"z2"},"y":{"field":"y","type":"quantitative"},"y2":{"field":"y2"}}}
]},
{"layer":[
{"data":{"name":"legendCells"},"mark":{"type":"rect","stroke":"black","strokeWidth":1},"encoding":{"x":{"field":"e","type":"quantitative","axis":null,"scale":{"domain":[9,-7],"range":[137.3,823.3],"nice":false,"zero":false}},"x2":{"field":"e2"},"y":{"datum":-373,"type":"quantitative"},"y2":{"datum":-395},"color":{"field":"d","type":"nominal","legend":null}}},
{"data":{"name":"legendTicks"},"mark":{"type":"rule","color":"black","strokeWidth":1},"encoding":{"x":{"field":"e","type":"quantitative"},"y":{"datum":-395,"type":"quantitative"},"y2":{"datum":-403}}},
{"data":{"name":"legendTens"},"mark":{"type":"text","font":"Liberation Serif","fontWeight":"bold","fontSize":20,"color":"#111111"},"encoding":{"x":{"field":"e","type":"quantitative"},"y":{"datum":-454,"type":"quantitative"},"text":{"field":"t"}}},
{"data":{"name":"legendExp"},"mark":{"type":"text","font":"Liberation Serif","fontSize":17,"color":"#111111"},"encoding":{"x":{"field":"e","type":"quantitative"},"y":{"datum":-428,"type":"quantitative"},"text":{"field":"t"}}}
]}
],
"resolve":{"scale":{"x":"independent"},"axis":{"x":"independent"}}
}
